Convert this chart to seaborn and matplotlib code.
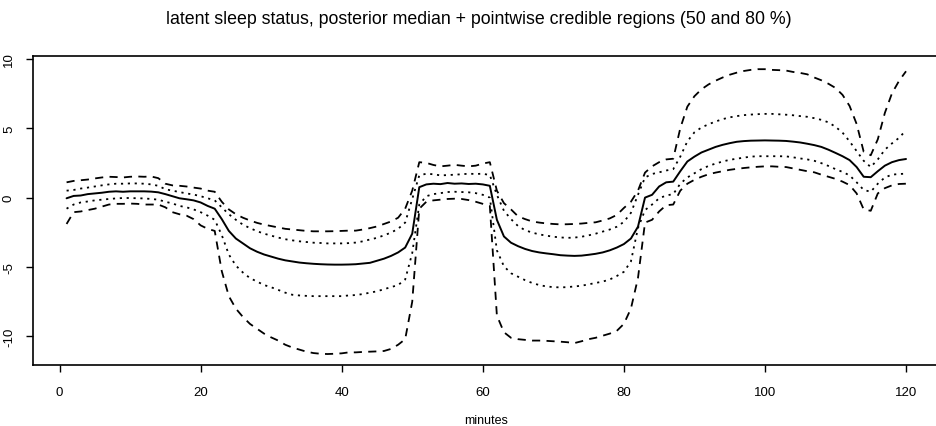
import numpy as np
import pandas as pd
import matplotlib
matplotlib.use("Agg")
import matplotlib.pyplot as plt
import seaborn as sns

minutes = list(range(1, 121))

median = [
    -0.05, 0.12, 0.15, 0.25, 0.30, 0.35, 0.42, 0.45, 0.42, 0.45,
    0.45, 0.45, 0.43, 0.38, 0.25, 0.10, -0.05, -0.12, -0.20, -0.35,
    -0.60, -0.80, -1.55, -2.40, -2.95, -3.30, -3.65, -3.90, -4.10, -4.25,
    -4.40, -4.52, -4.60, -4.68, -4.73, -4.77, -4.80, -4.82, -4.83, -4.83,
    -4.82, -4.80, -4.75, -4.70, -4.55, -4.40, -4.20, -3.95, -3.60, -2.60,
    0.75, 0.95, 1.00, 0.97, 1.05, 1.00, 1.02, 0.98, 1.00, 0.95,
    0.85, -1.60, -2.80, -3.25, -3.50, -3.70, -3.85, -3.95, -4.02, -4.08,
    -4.15, -4.18, -4.20, -4.18, -4.12, -4.05, -3.95, -3.80, -3.60, -3.35,
    -2.95, -2.10, 0.00, 0.20, 0.80, 1.10, 1.15, 1.90, 2.60, 2.95,
    3.25, 3.45, 3.65, 3.80, 3.92, 4.02, 4.07, 4.10, 4.11, 4.12,
    4.11, 4.10, 4.08, 4.03, 3.97, 3.88, 3.78, 3.65, 3.45, 3.22,
    2.98, 2.70, 2.20, 1.50, 1.47, 1.90, 2.30, 2.55, 2.70, 2.78,
]

upper50 = [
    0.50, 0.55, 0.65, 0.72, 0.80, 0.88, 0.95, 1.00, 1.00, 1.02,
    1.02, 1.00, 0.95, 0.85, 0.60, 0.50, 0.40, 0.30, 0.22, 0.10,
    -0.05, -0.20, -0.70, -1.20, -1.60, -1.95, -2.20, -2.42, -2.60, -2.74,
    -2.88, -3.00, -3.08, -3.15, -3.20, -3.25, -3.27, -3.30, -3.30, -3.30,
    -3.28, -3.24, -3.15, -3.02, -2.90, -2.72, -2.52, -2.25, -1.80, -0.10,
    1.60, 1.72, 1.68, 1.60, 1.62, 1.65, 1.68, 1.72, 1.70, 1.72,
    1.62, 0.20, -0.95, -1.55, -2.05, -2.35, -2.52, -2.65, -2.74, -2.82,
    -2.87, -2.90, -2.88, -2.82, -2.72, -2.60, -2.45, -2.30, -2.10, -1.75,
    -1.10, 0.20, 1.45, 1.70, 1.82, 1.95, 2.05, 2.95, 4.05, 4.70,
    5.05, 5.28, 5.48, 5.65, 5.78, 5.87, 5.94, 5.98, 6.01, 6.03,
    6.03, 6.00, 5.97, 5.93, 5.87, 5.82, 5.72, 5.60, 5.42, 5.10,
    4.68, 4.05, 3.35, 2.65, 2.20, 2.75, 3.45, 3.90, 4.30, 4.85,
]

lower50 = [
    -0.80, -0.50, -0.35, -0.28, -0.20, -0.15, -0.10, -0.06, -0.03, -0.03,
    -0.05, -0.06, -0.10, -0.15, -0.30, -0.42, -0.60, -0.70, -0.85, -1.05,
    -1.30, -1.60, -2.70, -4.10, -4.90, -5.40, -5.80, -6.05, -6.30, -6.46,
    -6.65, -6.85, -7.00, -7.05, -7.08, -7.10, -7.10, -7.10, -7.10, -7.10,
    -7.05, -7.02, -6.95, -6.85, -6.75, -6.60, -6.45, -6.30, -5.90, -4.00,
    -0.50, 0.10, 0.25, 0.32, 0.40, 0.42, 0.40, 0.38, 0.32, 0.20,
    0.00, -3.80, -4.95, -5.45, -5.70, -5.95, -6.15, -6.30, -6.40, -6.45,
    -6.47, -6.45, -6.40, -6.35, -6.25, -6.15, -6.05, -5.90, -5.65, -5.35,
    -4.60, -2.20, -0.90, -0.50, -0.05, 0.15, 0.25, 1.00, 1.45, 1.75,
    2.05, 2.28, 2.45, 2.60, 2.72, 2.80, 2.88, 2.95, 2.98, 2.98,
    2.98, 2.98, 2.97, 2.90, 2.82, 2.75, 2.65, 2.48, 2.28, 2.05,
    1.85, 1.60, 1.10, 0.55, 0.42, 1.00, 1.45, 1.65, 1.70, 1.72,
]

upper80 = [
    1.10, 1.20, 1.25, 1.30, 1.38, 1.45, 1.50, 1.48, 1.45, 1.50,
    1.52, 1.50, 1.52, 1.40, 1.00, 0.88, 0.85, 0.80, 0.72, 0.65,
    0.50, 0.42, -0.30, -0.85, -1.20, -1.45, -1.65, -1.82, -1.95, -2.05,
    -2.15, -2.25, -2.30, -2.35, -2.40, -2.43, -2.43, -2.43, -2.42, -2.40,
    -2.38, -2.38, -2.30, -2.20, -2.08, -1.90, -1.72, -1.45, -0.80, 0.50,
    2.55, 2.50, 2.35, 2.25, 2.30, 2.36, 2.30, 2.25, 2.30, 2.45,
    2.55, 0.50, -0.40, -0.85, -1.35, -1.55, -1.72, -1.80, -1.86, -1.90,
    -1.93, -1.92, -1.90, -1.87, -1.82, -1.78, -1.65, -1.50, -1.25, -0.75,
    -0.30, 0.50, 1.80, 2.25, 2.55, 2.75, 2.80, 5.00, 6.55, 7.30,
    7.80, 8.15, 8.42, 8.65, 8.85, 9.00, 9.12, 9.20, 9.25, 9.25,
    9.20, 9.18, 9.15, 9.05, 8.98, 8.88, 8.65, 8.45, 8.20, 7.90,
    7.40, 6.60, 5.30, 3.30, 3.05, 4.20, 6.10, 7.50, 8.40, 9.10,
]

lower80 = [
    -1.90, -1.05, -1.00, -0.90, -0.80, -0.65, -0.50, -0.45, -0.45, -0.43,
    -0.45, -0.50, -0.50, -0.50, -0.70, -1.05, -1.20, -1.30, -1.55, -2.00,
    -2.25, -2.40, -5.30, -7.10, -8.00, -8.60, -9.10, -9.45, -9.80, -10.07,
    -10.30, -10.60, -10.80, -10.95, -11.10, -11.20, -11.25, -11.27, -11.25, -11.22,
    -11.15, -11.15, -11.12, -11.10, -11.08, -11.05, -10.90, -10.60, -10.20, -7.50,
    -0.80, -0.30, -0.20, -0.15, -0.10, -0.08, -0.10, -0.18, -0.30, -0.45,
    -0.60, -8.50, -9.70, -10.10, -10.20, -10.25, -10.30, -10.30, -10.32, -10.35,
    -10.38, -10.42, -10.48, -10.35, -10.20, -10.10, -9.95, -9.80, -9.60, -9.10,
    -8.00, -5.80, -1.80, -1.60, -1.00, -0.55, -0.50, 0.50, 1.00, 1.28,
    1.50, 1.68, 1.80, 1.90, 2.00, 2.07, 2.13, 2.18, 2.22, 2.25,
    2.25, 2.22, 2.20, 2.10, 2.00, 1.90, 1.82, 1.65, 1.50, 1.35,
    1.15, 0.90, 0.30, -0.85, -0.95, 0.30, 0.68, 0.88, 0.98, 1.00,
]

x_ticks = [0, 20, 40, 60, 80, 100, 120]
y_ticks = [-10, -5, 0, 5, 10]
title = "latent sleep status, posterior median + pointwise credible regions (50 and 80 %)"
x_label = "minutes"

sns.set_style("ticks")
plt.rcParams["font.family"] = ["Liberation Sans", "DejaVu Sans"]
plt.rcParams["text.color"] = "black"
plt.rcParams["axes.labelcolor"] = "black"
plt.rcParams["xtick.color"] = "black"
plt.rcParams["ytick.color"] = "black"

df = pd.DataFrame({
    "minutes": minutes,
    "median": median,
    "upper50": upper50,
    "lower50": lower50,
    "upper80": upper80,
    "lower80": lower80,
})

fig = plt.figure(figsize=(9.37, 4.27), dpi=100)
fig.patch.set_facecolor("white")
ax = fig.add_axes([33 / 937, 61 / 427, (939.6 - 33) / 937, 309 / 427])

dotted = (0, (1.2, 2.6))
dashed = (0, (4.5, 3.5))
styles = {
    "lower80": dashed,
    "upper80": dashed,
    "lower50": dotted,
    "upper50": dotted,
}
for col, ls in styles.items():
    sns.lineplot(data=df, x="minutes", y=col, ax=ax, color="black",
                 linewidth=1.3, linestyle=ls, legend=False)
sns.lineplot(data=df, x="minutes", y="median", ax=ax, color="black",
             linewidth=1.4, linestyle="-", legend=False)

ax.set_xlim(-3.76, 124.76)
ax.set_ylim(-12.06, 10.2)
ax.set_xticks(x_ticks)
ax.set_yticks(y_ticks)
ax.set_xticklabels([str(t) for t in x_ticks])
ax.set_yticklabels([str(t) for t in y_ticks], rotation=90, va="center")
ax.tick_params(axis="both", direction="out", length=5, width=1, color="black",
               labelsize=9.5, labelcolor="black")
ax.tick_params(axis="x", pad=10)
ax.tick_params(axis="y", pad=8)
for s in ax.spines.values():
    s.set_visible(True)
    s.set_color("black")
    s.set_linewidth(1.2)
ax.set_ylabel("")
ax.set_xlabel(x_label, fontsize=9, labelpad=12, color="black")
ax.grid(False)
ax.set_facecolor("white")
fig.text(479 / 937, 1 - 19 / 427, title, ha="center", va="center",
         fontsize=12.8, color="black")

fig.savefig("out.png", dpi=100, facecolor="white")
